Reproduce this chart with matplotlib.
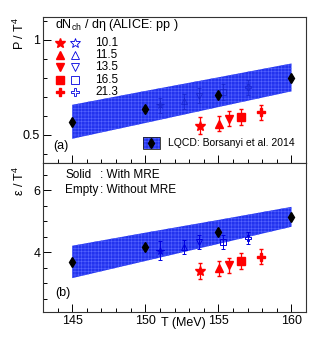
import numpy as np
import matplotlib
matplotlib.use("Agg")
import matplotlib.pyplot as plt
import matplotlib.ticker as mticker

plt.rcParams["font.family"] = ["Liberation Sans", "DejaVu Sans"]
plt.rcParams["hatch.linewidth"] = 0.4

# ── Data ─────────────────────────────────────────────────────────────────────
# LQCD (Borsanyi et al. 2014)
T_lqcd = [145, 150, 155, 160]
P_lqcd = [0.565, 0.635, 0.71, 0.80]
P_lo = [0.478, 0.561, 0.645, 0.728]
P_hi = [0.657, 0.730, 0.802, 0.875]
E_lqcd = [3.69, 4.16, 4.64, 5.14]
E_lo = [3.17, 3.72, 4.27, 4.82]
E_hi = [4.21, 4.63, 5.04, 5.46]

# ALICE pp multiplicity classes
dndeta = ["10.1", "11.5", "13.5", "16.5", "21.3"]
markers = ["*", "^", "v", "s", "P"]

# with MRE (solid)
T_mre = [153.76, 155.07, 155.7, 156.54, 157.94]
P_mre = [0.547, 0.558, 0.584, 0.593, 0.617]
P_mre_err = [0.044, 0.040, 0.040, 0.040, 0.040]
E_mre = [3.40, 3.49, 3.59, 3.72, 3.86]
E_mre_err = [0.27, 0.24, 0.24, 0.25, 0.24]

# without MRE (empty)
T_nomre = [151.0, 152.65, 153.65, 155.3, 157.0]
P_nomre = [0.655, 0.675, 0.705, 0.725, 0.75]
P_nomre_err = [0.04, 0.04, 0.04, 0.04, 0.04]
E_nomre = [4.05, 4.17, 4.32, 4.34, 4.46]
E_nomre_err = [0.30, 0.22, 0.22, 0.22, 0.20]

RED = "#ff0000"
BLUE = "#0000e0"
BAND = "#2233ee"
HATCH = "#5565ff"

fig = plt.figure(figsize=(3.15, 3.54), dpi=100)
ax1 = fig.add_axes([0.1365, 0.5395, 0.835, 0.4124])
ax2 = fig.add_axes([0.1365, 0.1186, 0.835, 0.4209], sharex=ax1)


def draw_band(ax, lo, hi, mid):
    ax.fill_between(T_lqcd, lo, hi, facecolor=BAND, edgecolor=HATCH,
                    hatch="+++++", linewidth=0, zorder=1)
    ax.plot(T_lqcd, mid, "d", color="black", markersize=5.5, zorder=6,
            clip_on=False)


def draw_points(ax, yv, ye, yv0, ye0, blue_col, blue_lw):
    for i, m in enumerate(markers):
        ms = 7 if m == "*" else 5.5
        ax.errorbar(T_nomre[i], yv0[i], yerr=ye0[i], fmt=m, color=blue_col,
                    mfc="none", mec=blue_col, ms=ms - 1.5, mew=blue_lw,
                    elinewidth=blue_lw, capsize=1.2, zorder=4)
        ax.errorbar(T_mre[i], yv[i], yerr=ye[i], fmt=m, color=RED,
                    mec=RED, ms=ms, elinewidth=0.9, capsize=1.5, zorder=5)


def style(ax, major, minor):
    ax.set_xlim(143, 161)
    ax.xaxis.set_major_locator(mticker.MultipleLocator(5))
    ax.xaxis.set_minor_locator(mticker.MultipleLocator(1))
    ax.yaxis.set_major_locator(mticker.MultipleLocator(major))
    ax.yaxis.set_minor_locator(mticker.MultipleLocator(minor))
    ax.tick_params(which="both", direction="in", top=False, right=False,
                   labelsize=9, pad=2)
    ax.tick_params(which="major", length=5.5, width=0.7)
    ax.tick_params(which="minor", length=2.8, width=0.7)
    for s in ax.spines.values():
        s.set_linewidth(0.8)
        s.set_color("#333333")


# ── Panel (a): pressure ──────────────────────────────────────────────────────
draw_band(ax1, P_lo, P_hi, P_lqcd)
draw_points(ax1, P_mre, P_mre_err, P_nomre, P_nomre_err, "#1522cc", 0.5)
style(ax1, 0.5, 0.1)
ax1.set_ylim(0.35, 1.12)
ax1.yaxis.set_major_formatter(mticker.FuncFormatter(lambda v, p: f"{v:g}"))
ax1.tick_params(axis="x", labelbottom=False)

ax1.text(0.046, 0.945, r"dN$_\mathregular{ch}$ / dη (ALICE: pp )",
         transform=ax1.transAxes, fontsize=9, va="center", ha="left")
rows = [0.824, 0.74, 0.66, 0.568, 0.488]
for i, m in enumerate(markers):
    ms = 7.5 if m == "*" else 6
    ax1.plot(0.065, rows[i], m, color=RED, ms=ms, transform=ax1.transAxes)
    ax1.plot(0.122, rows[i], m, color=BLUE, mfc="none", ms=ms, mew=0.6,
             transform=ax1.transAxes)
    ax1.text(0.198, rows[i], dndeta[i], transform=ax1.transAxes,
             fontsize=8.5, va="center", ha="left")
ax1.text(0.038, 0.116, "(a)", transform=ax1.transAxes, fontsize=9,
         va="center", ha="left")

# LQCD legend entry
ax1.add_patch(plt.Rectangle((0.38, 0.096), 0.065, 0.084,
                            transform=ax1.transAxes, facecolor=BAND,
                            edgecolor=HATCH, hatch="+++++", lw=0, zorder=6))
ax1.add_patch(plt.Rectangle((0.38, 0.096), 0.065, 0.084,
                            transform=ax1.transAxes, fill=False,
                            edgecolor="#222222", lw=0.6, zorder=7))
ax1.plot(0.4125, 0.138, "d", color="black", ms=5, transform=ax1.transAxes,
         zorder=8)
ax1.text(0.475, 0.137, "LQCD: Borsanyi et al. 2014", transform=ax1.transAxes,
         fontsize=7.5, va="center", ha="left")

# ── Panel (b): energy density ────────────────────────────────────────────────
draw_band(ax2, E_lo, E_hi, E_lqcd)
draw_points(ax2, E_mre, E_mre_err, E_nomre, E_nomre_err, BLUE, 0.7)
style(ax2, 2, 0.5)
ax2.set_ylim(2.08, 6.87)
ax2.yaxis.set_major_formatter(mticker.FuncFormatter(lambda v, p: f"{v:g}"))

ax2.text(0.084, 0.92, "Solid", transform=ax2.transAxes, fontsize=8.5,
         va="center", ha="left")
ax2.text(0.215, 0.92, ": With MRE", transform=ax2.transAxes, fontsize=8.5,
         va="center", ha="left")
ax2.text(0.084, 0.82, "Empty", transform=ax2.transAxes, fontsize=8.5,
         va="center", ha="left")
ax2.text(0.215, 0.82, ": Without MRE", transform=ax2.transAxes, fontsize=8.5,
         va="center", ha="left")
ax2.text(0.046, 0.13, "(b)", transform=ax2.transAxes, fontsize=9,
         va="center", ha="left")

# axis titles
fig.text(0.063, (354 - 17) / 354, r"P / T$^\mathregular{4}$", rotation=90,
         fontsize=9, ha="center", va="top")
fig.text(0.063, (354 - 166) / 354, r"ε / T$^\mathregular{4}$", rotation=90,
         fontsize=9, ha="center", va="top")
fig.text(183 / 315, (354 - 323) / 354, "T (MeV)", fontsize=9,
         ha="center", va="center")

fig.savefig("out.png", dpi=100)
